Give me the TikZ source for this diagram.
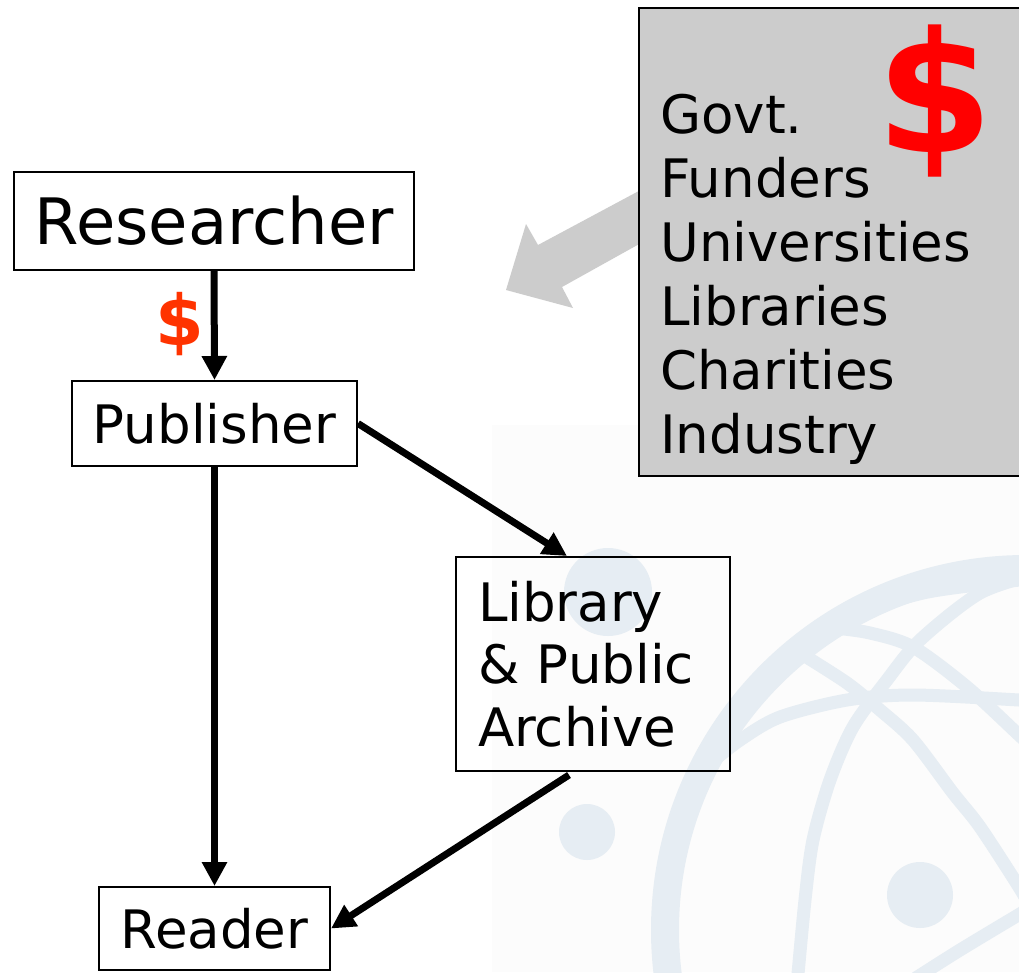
\documentclass[tikz,border=0pt]{standalone}
\usepackage{fontspec}
\setmainfont{DejaVu Sans}
\usetikzlibrary{arrows.meta,calc}
\definecolor{wm}{HTML}{E6EDF3}
\definecolor{faint}{HTML}{FCFCFC}
\definecolor{boxgray}{HTML}{CCCCCC}
\definecolor{dollarred}{HTML}{FF0000}
\definecolor{dollarorange}{HTML}{FF3300}
\begin{document}
\begin{tikzpicture}[x=1pt,y=-1pt,
  box/.style={draw=black, line width=2pt, inner sep=0pt},
  flow/.style={line width=7pt, -{Triangle[width=24pt,length=24pt]}},
  orbit/.style={draw=wm, line width=13pt},
]
\useasboundingbox (0,0) rectangle (1019,972);
\fill[white] (0,0) rectangle (1019,972);
% faint watermark background
\fill[faint] (492,425) rectangle (1019,972);
\begin{scope}
\clip (492,425) rectangle (1019,972);
\draw[wm, line width=28pt] (1026,930) circle[radius=361pt];
\draw[orbit] plot[smooth] coordinates {(708,765) (740,740) (780,717) (847,700) (913,695) (1019,700) (1040,702)};
\draw[orbit] plot[smooth] coordinates {(706,766) (750,705) (800,653) (862,613) (923,593) (993,583) (1040,578)};
\draw[orbit] plot[smooth] coordinates {(797,985) (805,900) (813,840) (830,780) (853,727) (887,680) (920,640) (980,593) (1040,573)};
\draw[orbit] plot[smooth] coordinates {(800,653) (847,683) (880,710) (913,740) (953,793) (980,827) (1019,887) (1035,915)};
\draw[orbit] plot[smooth] coordinates {(835,628) (870,633) (913,647) (967,687) (1019,735) (1035,750)};
\draw[orbit] plot[smooth] coordinates {(905,985) (960,950) (1035,905)};
\fill[wm] (608,592) circle[radius=44pt];
\fill[wm] (587,832) circle[radius=28pt];
\fill[wm] (920,895) circle[radius=33pt];
\end{scope}
% grey arrow from funders
\fill[boxgray] (650,185) -- (538,245) -- (526,224) -- (506,290) -- (573,308) -- (562,287) -- (650,238) -- cycle;
% funders box
\node[box, fill=boxgray, minimum width=400pt, minimum height=468pt, anchor=north west] (fund) at (638,7) {};
\node[anchor=base west, align=left, inner sep=0pt, font=\fontsize{53}{64}\selectfont] (flist) at (660,453) {Govt.\\Funders\\Universities\\Libraries\\Charities\\Industry};
\node[inner sep=0pt, text=dollarred, font=\fontsize{168}{168}\selectfont\bfseries] (bigd) at (935,101) {\$};
% flow nodes
\node[box, minimum width=400pt, minimum height=98pt, font=\fontsize{64}{64}\selectfont] (res) at (214,221) {Researcher};
\node[box, minimum width=285pt, minimum height=85pt, font=\fontsize{53}{53}\selectfont] (pub) at (214.5,423.5) {Publisher};
\node[box, minimum width=231pt, minimum height=83pt, font=\fontsize{53}{53}\selectfont] (rdr) at (214.5,928.5) {Reader};
\node[box, minimum width=274pt, minimum height=214pt, align=left, text width=230pt, font=\fontsize{53}{62.5}\selectfont] (lib) at (593,664) {Library\\\& Public\\Archive};
\node[inner sep=0pt, text=dollarorange, font=\fontsize{70}{70}\selectfont\bfseries] (smd) at (180,324) {\$};
% connectors
\draw[flow] (res.south) -- (pub.north);
\draw[flow] (pub.south) -- (rdr.north);
\draw[flow] (pub.east) -- ($(lib.north west)+(112,0)$);
\draw[flow] ($(lib.south west)+(114,3)$) -- (rdr.east);
\end{tikzpicture}
\end{document}
